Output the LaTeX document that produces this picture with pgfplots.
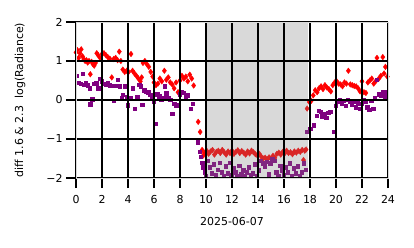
\documentclass[border=0pt]{standalone}
\usepackage{pgfplots}
\pgfplotsset{compat=1.18}
\usepackage{fontspec}
\setmainfont{DejaVu Sans}
\definecolor{mpurple}{RGB}{128,0,128}
\definecolor{shadegray}{RGB}{217,217,217}
\definecolor{sred}{RGB}{217,38,38}
\definecolor{spurple}{RGB}{128,38,128}
\pgfplotstableread{
x y
0.00 1.22
0.10 1.28
0.20 1.08
0.30 1.20
0.40 1.30
0.50 1.12
0.60 1.05
0.70 1.00
0.80 1.02
0.90 0.96
1.00 1.00
1.10 0.66
1.20 0.98
1.30 0.92
1.40 0.88
1.50 0.95
1.60 1.20
1.70 1.15
1.85 1.08
2.00 1.18
2.15 1.20
2.30 1.15
2.45 1.10
2.60 1.06
2.75 0.58
2.90 1.05
3.05 1.08
3.20 1.02
3.33 1.24
3.45 1.00
3.60 0.78
3.75 0.72
3.90 0.75
4.05 0.72
4.23 1.18
4.35 0.75
4.50 0.68
4.65 0.62
4.80 0.55
4.95 0.48
5.05 0.58
5.15 0.95
5.30 1.00
5.45 0.92
5.60 0.85
5.75 0.72
5.90 0.60
6.00 0.45
6.15 0.38
6.30 0.42
6.45 0.55
6.60 0.48
6.80 0.75
6.95 0.52
7.10 0.58
7.25 0.45
7.40 0.40
7.55 0.30
7.70 0.45
7.85 0.20
8.00 0.50
8.15 0.62
8.30 0.55
8.45 0.60
8.60 0.48
8.75 0.65
8.90 0.55
9.05 0.37
9.40 -0.56
9.55 -0.82
9.70 -1.28
9.80 -1.42
9.90 -1.35
10.05 -1.30
10.20 -1.38
10.35 -1.32
10.50 -1.28
10.65 -1.40
10.80 -1.33
10.95 -1.30
11.10 -1.36
11.25 -1.28
11.40 -1.34
11.55 -1.40
11.70 -1.32
11.85 -1.36
12.00 -1.30
12.15 -1.38
12.30 -1.33
12.45 -1.29
12.60 -1.36
12.75 -1.31
12.90 -1.35
13.05 -1.40
13.20 -1.32
13.35 -1.37
13.50 -1.30
13.65 -1.34
13.80 -1.39
13.95 -1.42
14.10 -1.38
14.25 -1.45
14.40 -1.50
14.55 -1.48
14.70 -1.52
14.85 -1.47
15.00 -1.50
15.15 -1.43
15.30 -1.48
15.45 -1.38
15.60 -1.35
15.75 -1.40
15.90 -1.33
16.05 -1.37
16.20 -1.30
16.35 -1.36
16.50 -1.34
16.65 -1.39
16.80 -1.32
16.95 -1.35
17.10 -1.30
17.25 -1.33
17.40 -1.28
17.50 -1.54
17.60 -1.30
17.70 -1.27
17.78 -0.22
17.95 -0.05
18.10 -0.02
18.25 0.12
18.40 0.25
18.55 0.20
18.70 0.30
18.85 0.35
19.00 0.28
19.15 0.38
19.30 0.32
19.45 0.28
19.60 0.22
19.75 0.38
19.90 0.45
20.05 0.48
20.20 0.42
20.35 0.40
20.50 0.35
20.65 0.45
20.80 0.42
20.95 0.75
21.10 0.40
21.25 0.38
21.40 0.36
21.55 0.35
21.70 0.30
21.85 0.22
22.00 0.48
22.15 0.20
22.30 0.18
22.45 0.45
22.60 0.50
22.75 0.55
22.90 0.42
23.05 0.48
23.15 1.08
23.30 0.55
23.45 0.62
23.60 1.10
23.70 0.68
23.80 0.85
23.95 0.60
}\redtable
\pgfplotstableread{
x y
0.05 0.62
0.20 0.45
0.35 0.42
0.50 0.67
0.60 0.40
0.75 0.45
0.90 0.38
1.05 0.30
1.10 -0.11
1.25 0.02
1.40 0.42
1.55 0.43
1.70 0.30
1.85 0.55
2.00 0.48
2.15 0.42
2.30 0.40
2.45 0.43
2.60 0.38
2.75 0.37
2.90 -0.02
3.05 0.36
3.20 0.52
3.35 0.35
3.50 0.05
3.60 0.13
3.75 0.35
3.90 0.08
4.00 -0.13
4.20 0.05
4.35 0.30
4.50 -0.22
4.70 0.08
4.85 0.40
5.00 0.35
5.10 -0.12
5.25 0.25
5.40 0.22
5.55 0.20
5.70 0.13
5.85 0.08
6.00 -0.05
6.10 -0.60
6.25 0.15
6.40 0.10
6.55 0.00
6.70 0.05
6.80 0.35
6.95 0.17
7.10 0.05
7.25 0.00
7.40 -0.35
7.55 -0.10
7.70 -0.15
7.85 -0.12
8.00 0.15
8.15 0.20
8.30 0.18
8.45 0.10
8.60 0.12
8.80 -0.22
9.00 -0.10
9.35 -1.08
9.50 -1.32
9.60 -1.45
9.70 -1.60
9.78 -1.72
9.88 -1.85
10.00 -1.95
10.15 -1.55
10.30 -1.72
10.45 -1.88
10.60 -1.65
10.75 -1.92
10.90 -1.78
11.05 -1.60
11.20 -1.85
11.35 -1.95
11.50 -1.70
11.65 -1.88
11.80 -1.60
11.95 -1.93
12.10 -1.75
12.25 -1.85
12.40 -1.95
12.55 -1.68
12.70 -1.90
12.85 -1.80
13.00 -1.95
13.15 -1.85
13.30 -1.72
13.45 -1.92
13.60 -1.88
13.75 -1.65
13.90 -1.95
14.05 -1.80
14.20 -1.55
14.35 -1.62
14.50 -1.70
14.65 -1.58
14.80 -1.90
14.95 -1.62
15.10 -1.50
15.25 -1.55
15.40 -1.85
15.55 -1.95
15.70 -1.68
15.85 -1.80
16.00 -1.93
16.15 -1.72
16.30 -1.85
16.45 -1.62
16.60 -1.95
16.75 -1.75
16.90 -1.88
17.05 -1.70
17.20 -1.95
17.35 -1.85
17.50 -1.62
17.65 -1.78
17.78 -0.82
18.03 -0.73
18.27 -0.65
18.50 -0.40
18.65 -0.28
18.80 -0.30
18.95 -0.42
19.10 -0.35
19.25 -0.45
19.40 -0.32
19.55 -0.30
19.80 -0.82
20.00 -0.15
20.15 -0.05
20.30 0.00
20.45 -0.08
20.60 -0.02
20.75 -0.15
20.90 0.00
21.05 -0.05
21.20 -0.12
21.35 -0.05
21.50 -0.18
21.65 -0.08
21.80 -0.22
21.95 -0.10
22.10 0.00
22.25 -0.05
22.40 -0.18
22.55 -0.25
22.70 -0.02
22.85 -0.22
23.00 0.05
23.15 0.52
23.30 0.15
23.45 0.12
23.60 0.20
23.75 0.10
23.90 0.22
}\purpletable
\begin{document}
\begin{tikzpicture}
\begin{axis}[
  scale only axis, width=312bp, height=156bp,
  xmin=0, xmax=24, ymin=-2, ymax=2,
  xtick={0,2,...,24}, ytick={-2,-1,0,1,2},
  yticklabels={{−2},{−1},{0},{1},{2}},
  xmajorgrids=true, ymajorgrids=true,
  grid style={draw=black, line width=2bp},
  major grid style={draw=black, line width=2bp},
  axis line style={draw=black!15, line width=0.8bp},
  tick style={black, line width=2bp},
  major tick length=10bp, tick align=outside, tick pos=left,
  ticklabel style={font=\fontsize{11}{13}\selectfont},
  xticklabel style={yshift=-4bp},
  /pgf/number format/assume math mode=true,
  xlabel={2025-06-07}, ylabel={diff 1.6 \& 2.3\ \ log(Radiance)},
  label style={font=\fontsize{11}{13}\selectfont},
  xlabel style={at={(axis description cs:0.5,0)}, yshift=-44bp, anchor=center},
  ylabel style={at={(axis description cs:0,0.5)}, yshift=56bp, anchor=center},
  set layers, axis on top,
]
\fill[shadegray] (axis cs:9.95,-2) rectangle (axis cs:17.85,2);
\addplot[only marks, mark=diamond*, mark size=2.8pt, color=red, mark options={draw=none, fill=red}, restrict x to domain=0:9.95] table {\redtable};
\addplot[only marks, mark=diamond*, mark size=2.8pt, color=red, mark options={draw=none, fill=red}, restrict x to domain=17.85:24] table {\redtable};
\addplot[only marks, mark=diamond*, mark size=2.8pt, color=sred, mark options={draw=none, fill=sred}, restrict x to domain=9.95:17.85] table {\redtable};
\addplot[only marks, mark=square*, mark size=1.7pt, color=mpurple, mark options={draw=none, fill=mpurple}, restrict x to domain=0:9.95] table {\purpletable};
\addplot[only marks, mark=square*, mark size=1.7pt, color=mpurple, mark options={draw=none, fill=mpurple}, restrict x to domain=17.85:24] table {\purpletable};
\addplot[only marks, mark=square*, mark size=1.7pt, color=spurple, mark options={draw=none, fill=spurple}, restrict x to domain=9.95:17.85] table {\purpletable};
\end{axis}
\path[use as bounding box] (-76bp,-70bp) rectangle (338bp,178bp);
\end{tikzpicture}
\end{document}
